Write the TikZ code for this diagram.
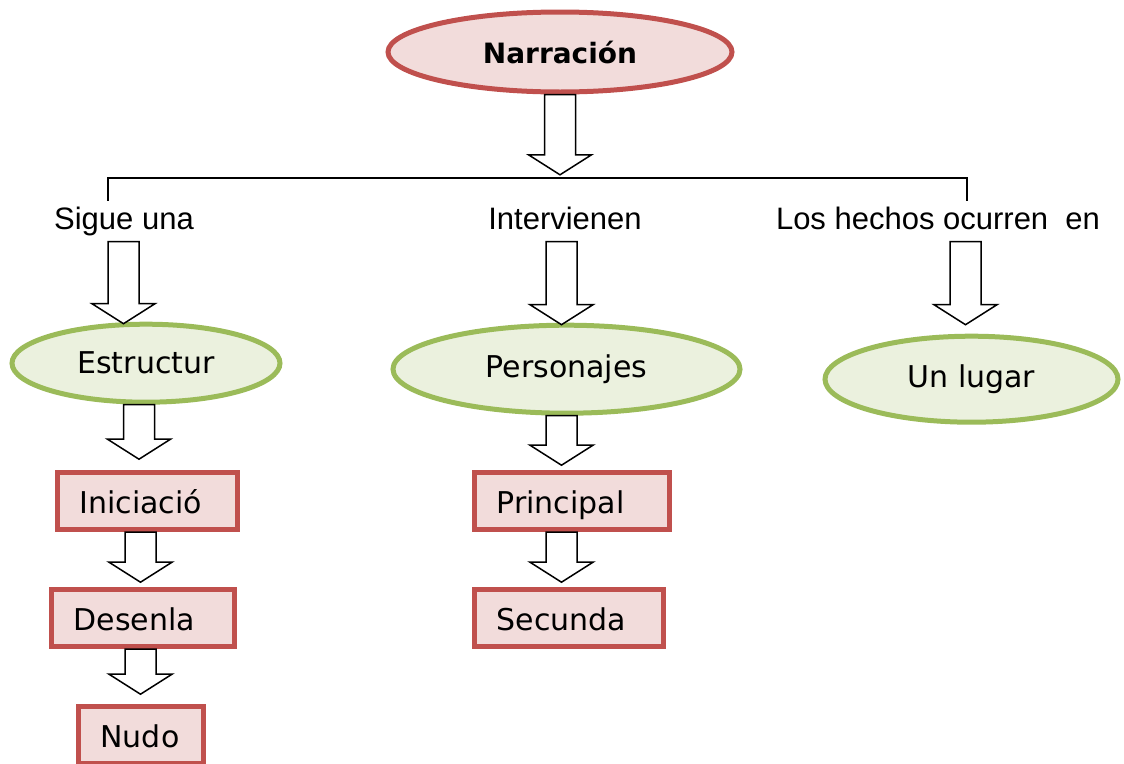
\documentclass[tikz,border=0pt]{standalone}
\usepackage{fontspec}
\setmainfont{DejaVu Sans}
\newfontfamily\labelfont{Liberation Sans}
\usepackage{tikz}
\usetikzlibrary{positioning,shapes.geometric,calc}
\definecolor{rootred}{HTML}{C0504D}
\definecolor{rootfill}{HTML}{F2DCDB}
\definecolor{leafgreen}{HTML}{9BBB59}
\definecolor{leaffill}{HTML}{EBF1DE}
\tikzset{
    narrroot/.style={ellipse, draw=rootred, fill=rootfill, line width=5pt, font=\fontsize{28}{34}\selectfont\bfseries, minimum width=344pt, minimum height=80pt},
    narrellipse/.style={ellipse, draw=leafgreen, fill=leaffill, line width=5pt, font=\fontsize{30}{36}\selectfont},
    narrbox/.style={rectangle, draw=rootred, fill=rootfill, line width=5pt, font=\fontsize{30}{36}\selectfont, align=left, inner xsep=22pt, inner ysep=0pt, minimum height=57pt, text height=24pt, text depth=0pt},
    narrlabel/.style={font=\labelfont\fontsize{31}{37}\selectfont, inner sep=5pt, text height=23pt, text depth=7.5pt},
    narrline/.style={line width=1.5pt},
    narrarrow/.style={draw=black, fill=white, line width=1.5pt, line join=miter}
}
\newcommand{\blockarrow}[3][0pt]{%
    \draw[narrarrow] let \p1=([xshift=#1]#2.south), \p2=(#3.north) in
        (\x1-15.5pt,\y1) -- (\x1+15.5pt,\y1) -- (\x1+15.5pt,\y2+20pt) -- (\x1+31.5pt,\y2+20pt)
        -- (\x1,\y2) -- (\x1-31.5pt,\y2+20pt) -- (\x1-15.5pt,\y2+20pt) -- cycle;}

\begin{document}
\begin{tikzpicture}[x=1pt, y=-1pt]
        \useasboundingbox (0,0) rectangle (1124,763);

        \node[narrroot] (narr) at (560,52) {Narración};
        \node[inner sep=0pt, minimum size=0pt] (hub) at (560,178) {};

        \node[narrlabel, anchor=base] (sigue) at (124,229) {Sigue una};
        \node[narrlabel, anchor=base] (interv) at (565,229) {Intervienen};
        \node[narrlabel, anchor=base] (hechos) at (938,229) {Los hechos ocurren \ en};

        \node[narrellipse, minimum width=268pt, minimum height=78pt, below=80pt of sigue, xshift=22pt] (estruct) {Estructur};
        \node[narrellipse, minimum width=347pt, minimum height=88pt, below=81pt of interv, xshift=1.5pt] (person) {Personajes};
        \node[narrellipse, minimum width=293pt, minimum height=86pt, below=92pt of hechos, xshift=33.5pt] (lugar) {Un lugar};

        \node[narrbox, text width=136pt, below=65.5pt of estruct, xshift=1.5pt] (inicio) {Iniciació};
        \node[narrbox, text width=139pt, below=55pt of inicio, xshift=-4.5pt] (desenl) {Desenla};
        \node[narrbox, text width=81pt, below=55pt of desenl, xshift=-2pt] (nudo) {Nudo};

        \node[narrbox, text width=151pt, below=54.5pt of person, xshift=5.5pt] (princ) {Principal};
        \node[narrbox, text width=145pt, below=55pt of princ, xshift=-3pt] (secund) {Secunda};

        \draw[narrline] ([xshift=-16pt]sigue.north) |- (hub) -| ([xshift=29pt]hechos.north);

        \blockarrow{narr}{[yshift=3pt]hub}
        \blockarrow[-0.5pt]{sigue}{[yshift=-2pt]estruct}
        \blockarrow[-3.5pt]{interv}{[yshift=-2pt]person}
        \blockarrow[27.5pt]{hechos}{[yshift=9pt]lugar}
        \blockarrow[-7pt]{estruct}{[yshift=11pt]inicio}
        \blockarrow[-7pt]{inicio}{[yshift=5pt]desenl}
        \blockarrow[-2.5pt]{desenl}{[yshift=10pt]nudo}
        \blockarrow[-5pt]{person}{[yshift=5pt]princ}
        \blockarrow[-10.5pt]{princ}{[yshift=5pt]secund}
    \end{tikzpicture}
\end{document}
